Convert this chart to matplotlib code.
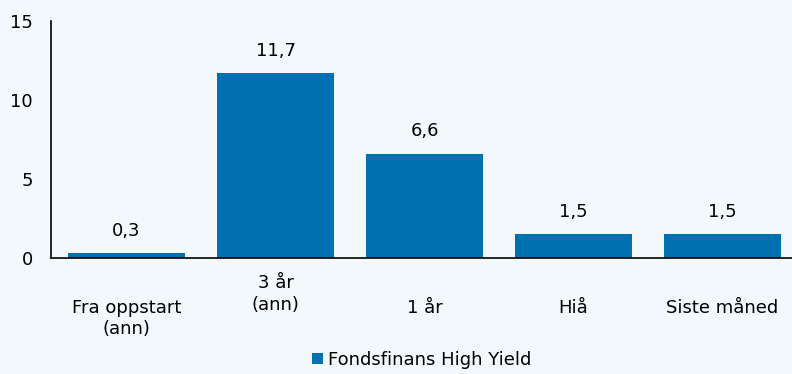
import matplotlib
matplotlib.use("Agg")
import matplotlib.pyplot as plt
from matplotlib.patches import Patch
from matplotlib.transforms import offset_copy

categories = ["Fra oppstart\n(ann)", "3 år\n(ann)", "1 år", "Hiå", "Siste måned"]
values = [0.3, 11.7, 6.6, 1.5, 1.5]
value_labels = ["0,3", "11,7", "6,6", "1,5", "1,5"]
series_name = "Fondsfinans High Yield"
yticks = [0, 5, 10, 15]

bg = "#F2F8FC"
bar_color = "#0071B0"
fs = 13

fig = plt.figure(figsize=(7.92, 3.74), dpi=100, facecolor=bg)
ax = fig.add_axes([51 / 792, 1 - 258 / 374, 1 - 51 / 792, (258 - 21) / 374])
ax.set_facecolor(bg)

x = list(range(len(categories)))
ax.bar(x, values, width=0.785, color=bar_color, zorder=2)

ax.set_ylim(0, 15)
ax.set_xlim(-0.507, 4.466)
ax.set_yticks(yticks)
ax.set_yticklabels([str(t) for t in yticks], fontsize=fs)
ax.tick_params(axis="y", length=0, pad=13)
ax.set_xticks([])

for s in ["top", "right"]:
    ax.spines[s].set_visible(False)
for s in ["left", "bottom"]:
    ax.spines[s].set_color("black")
    ax.spines[s].set_linewidth(1.2)
ax.spines["bottom"].set_zorder(3)

# value labels above bars
for xi, v, lab in zip(x, values, value_labels):
    ax.annotate(lab, (xi, v), xytext=(0, 16), textcoords="offset points",
                ha="center", va="center", fontsize=fs)

# category labels under the axis (the "3 år" label sits one line higher)
trans = ax.get_xaxis_transform()
for xi, lab in zip(x, categories):
    dy = -16 if lab.startswith("3") else -41
    t = offset_copy(trans, fig=fig, x=0, y=dy, units="dots")
    ax.text(xi, 0, lab, transform=t, ha="center", va="top",
            fontsize=fs, linespacing=1.25)

handle = Patch(facecolor=bar_color, edgecolor="none")
ax.legend([handle], [series_name], loc="center", bbox_to_anchor=(0.5, -0.43),
          frameon=False, fontsize=fs, handlelength=0.6, handleheight=0.6,
          handletextpad=0.3)

fig.savefig("out.png", dpi=100, facecolor=bg)
